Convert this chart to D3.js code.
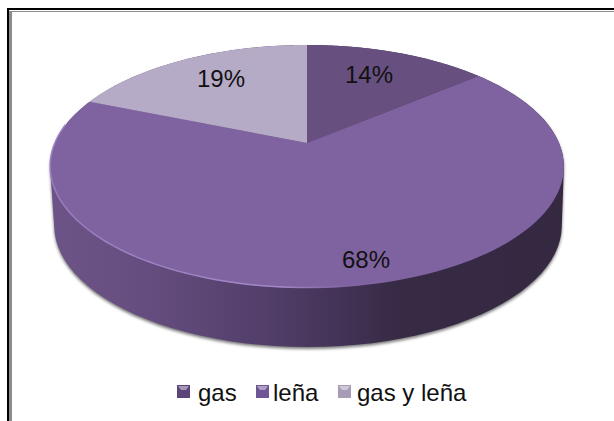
<!DOCTYPE html>
<meta charset="utf-8">
<title>gas, leña</title>
<script src="https://d3js.org/d3.v7.min.js"></script>
<style>
  html, body { margin: 0; padding: 0; background: #fff; }
  svg { display: block; }
  text { font-family: "Liberation Sans", Arial, sans-serif; fill: #111; }
</style>
<div id="my_dataviz"></div>
<script>

  // the data
  var categories = ["gas", "leña", "gas y leña"];
  var values = [14, 68, 19];
  var valueLabels = ["14%", "68%", "19%"];

  var topColors = ["#67507f", "#7f62a0", "#b6abc6"];
  var legendColors = ["#5a4478", "#6f5596", "#a79cb6"];

  var width = 614, height = 421;

  var svg = d3.select("#my_dataviz")
    .append("svg")
      .attr("width", width)
      .attr("height", height);

  var defs = svg.append("defs");

  // perspective view of the disc: the apex sits above the middle of the ellipse
  var tilt = 0.1934;
  function project(a, r, view) {
    var u = Math.sin(a) * r, v = -Math.cos(a) * r;
    var d = 1 - tilt * v;
    return [view.cx + view.rx * u / d, view.cy + view.ry * v / d];
  }
  var topView = {cx: 307, cy: 143, rx: 252, ry: 117};
  var lowView = {cx: 308, cy: 202, rx: 249, ry: 117};

  var pie = d3.pie().sort(null).value(function(d) { return d; });
  var slices = pie(values);
  var line = d3.line();

  function rimPoints(a0, a1, view) {
    return d3.range(0, 121).map(function(i) {
      return project(a0 + (a1 - a0) * i / 120, 1, view);
    });
  }

  // frame of the pasted picture
  svg.append("rect").attr("x", 7).attr("y", 8).attr("width", 607).attr("height", 413).attr("fill", "#000");
  svg.append("rect").attr("x", 9).attr("y", 10).attr("width", 605).attr("height", 411).attr("fill", "#fff");
  svg.append("rect").attr("x", 9).attr("y", 11).attr("width", 605).attr("height", 1).attr("fill", "#8c8c8c");
  svg.append("rect").attr("x", 9).attr("y", 11).attr("width", 3).attr("height", 410).attr("fill", "#8c8c8c");

  // side of the disc
  var sideGradient = defs.append("linearGradient")
    .attr("id", "side")
    .attr("gradientUnits", "userSpaceOnUse")
    .attr("x1", 50).attr("x2", 566).attr("y1", 0).attr("y2", 0);
  [[0, "#6d5488"], [0.2, "#644d7e"], [0.45, "#4f3c66"], [0.68, "#362a45"], [1, "#352841"]].forEach(function(s) {
    sideGradient.append("stop").attr("offset", s[0]).attr("stop-color", s[1]);
  });

  defs.append("filter").attr("id", "soft")
    .attr("x", "-5%").attr("y", "-5%").attr("width", "110%").attr("height", "110%")
    .append("feGaussianBlur").attr("stdDeviation", 1.4);

  var hull = d3.polygonHull(
    rimPoints(0, 2 * Math.PI, topView).concat(rimPoints(0, 2 * Math.PI, lowView))
  );

  svg.append("path")
    .attr("d", line(hull) + "Z")
    .attr("transform", "translate(0,2)")
    .attr("fill", "#777")
    .attr("filter", "url(#soft)");

  svg.append("path")
    .attr("d", line(hull) + "Z")
    .attr("fill", "url(#side)");

  // top of the disc, drawn from the pie angles
  svg.selectAll("path.slice")
    .data(slices)
    .enter()
    .append("path")
      .attr("class", "slice")
      .attr("d", function(d) {
        var apex = project(0, 0, topView);
        return line([apex].concat(rimPoints(d.startAngle, d.endAngle, topView))) + "Z";
      })
      .attr("fill", function(d, i) { return topColors[i]; });

  // light bevel along the front edge
  var rimGradient = defs.append("linearGradient")
    .attr("id", "rim")
    .attr("gradientUnits", "userSpaceOnUse")
    .attr("x1", 50).attr("x2", 566).attr("y1", 0).attr("y2", 0);
  [[0, "#9b7fc2", 0.9], [0.45, "#a88ccc", 0.9], [0.6, "#8a6fae", 0.25], [1, "#8a6fae", 0]].forEach(function(s) {
    rimGradient.append("stop").attr("offset", s[0]).attr("stop-color", s[1]).attr("stop-opacity", s[2]);
  });

  svg.append("path")
    .attr("d", line(rimPoints(Math.PI * 0.5, Math.PI * 1.55, topView).map(function(p) {
      return [p[0], p[1] - 0.5];
    })))
    .attr("fill", "none")
    .attr("stroke", "url(#rim)")
    .attr("stroke-width", 1.5);

  // value labels
  var labelX = [369, 366, 221], labelY = [83, 268, 87];
  svg.selectAll("text.value")
    .data(valueLabels)
    .enter()
    .append("text")
      .attr("class", "value")
      .attr("x", function(d, i) { return labelX[i]; })
      .attr("y", function(d, i) { return labelY[i]; })
      .attr("text-anchor", "middle")
      .attr("font-size", 24)
      .text(function(d) { return d; });

  // legend
  var legendMarkX = [177, 256, 338], legendTextX = [198, 273, 357];
  var legend = svg.selectAll("g.legend")
    .data(categories)
    .enter()
    .append("g")
      .attr("class", "legend");

  legend.append("rect")
    .attr("x", function(d, i) { return legendMarkX[i]; })
    .attr("y", 385)
    .attr("width", 13)
    .attr("height", 13)
    .attr("fill", function(d, i) { return legendColors[i]; });

  legend.append("path")
    .attr("d", function(d, i) {
      var x = legendMarkX[i];
      return line([[x + 1, 386], [x + 12, 386], [x + 9, 390], [x + 4, 390]]) + "Z";
    })
    .attr("fill", "#fff")
    .attr("fill-opacity", 0.45);

  legend.append("text")
    .attr("x", function(d, i) { return legendTextX[i]; })
    .attr("y", 401)
    .attr("font-size", 24)
    .text(function(d) { return d; });

</script>
